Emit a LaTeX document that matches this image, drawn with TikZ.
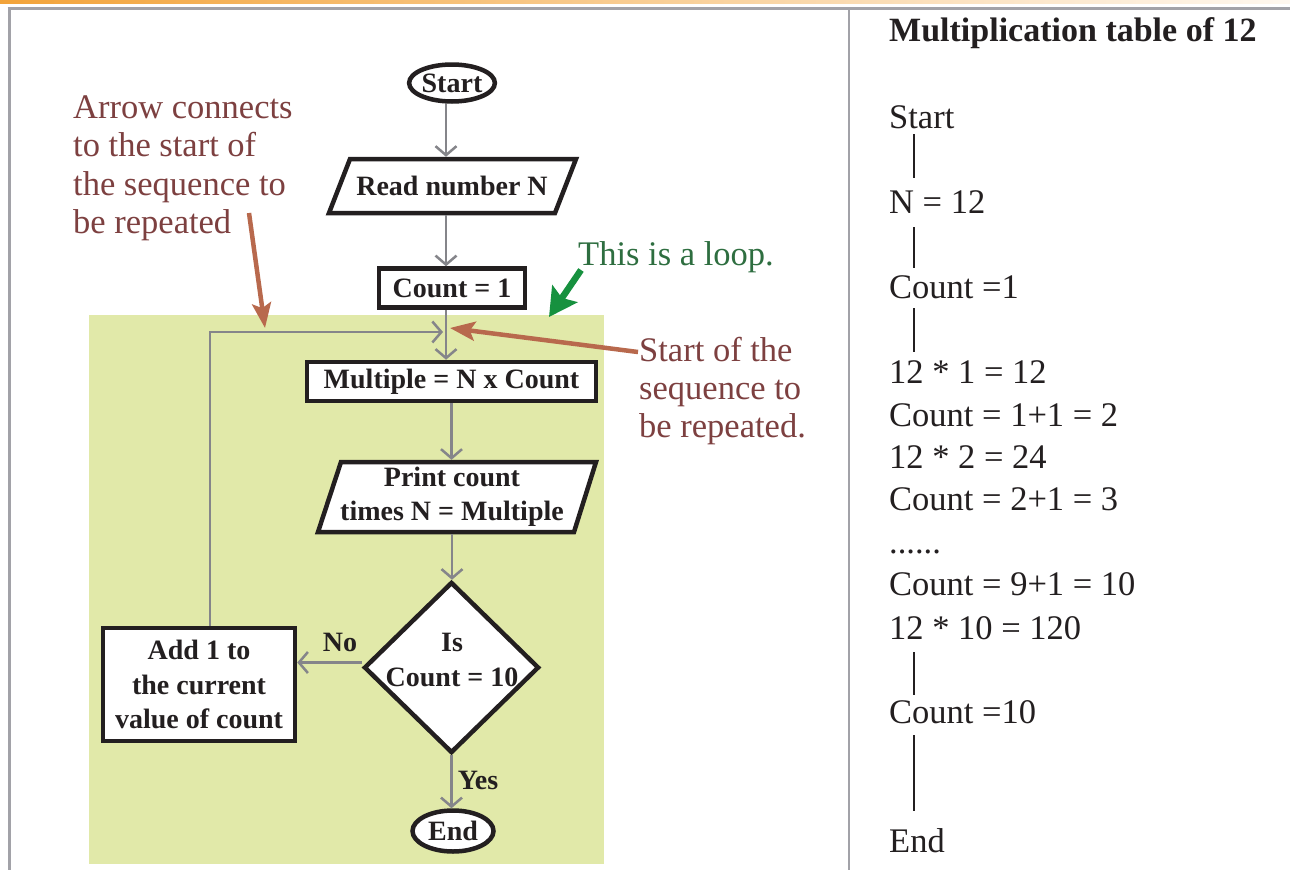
\documentclass[tikz,border=0pt]{standalone}
\usepackage{fontspec}
\setmainfont{Liberation Serif}
\usetikzlibrary{shapes.geometric,arrows.meta,calc}
\definecolor{brtext}{HTML}{7D4040}
\definecolor{brarr}{HTML}{B8694D}
\definecolor{grtext}{HTML}{2E6E40}
\definecolor{grarr}{HTML}{17913F}
\definecolor{loopfill}{HTML}{E1E9A9}
\definecolor{flowgray}{HTML}{85858A}
\definecolor{framegray}{HTML}{A2A2A8}
\definecolor{topor}{HTML}{F2A33A}
\definecolor{ink}{HTML}{231F20}
\begin{document}
\begin{tikzpicture}[x=1pt,y=-1pt,
  shapeline/.style={line width=4.5pt, draw=ink, line join=miter},
  ftext/.style={font=\fontsize{28}{34.5}\selectfont\bfseries, text=ink, align=center, inner sep=0pt},
  fbox/.style={ftext, shapeline, fill=white, rectangle},
  foval/.style={ftext, shapeline, fill=white, ellipse},
  arr/.style={draw=flowgray, line width=2.5pt, -{Straight Barb[length=9pt,width=21pt]}},
  brarrow/.style={draw=brarr, line width=4.5pt, -{Stealth[length=25pt,width=19pt,inset=5pt]}},
  grarrow/.style={draw=grarr, line width=6.5pt, -{Stealth[length=28pt,width=30pt,inset=5pt]}},
  note/.style={font=\fontsize{34.5}{38}\selectfont, inner sep=0pt, anchor=base west},
  brnote/.style={note, text=brtext},
  grnote/.style={note, text=grtext},
  rcol/.style={note, text=ink},
  bar/.style={draw=ink, line width=2.4pt},
]
\useasboundingbox (0,0) rectangle (1290,870);
\fill[white] (0,0) rectangle (1290,870);

% frame
\shade[left color=topor, right color=topor!8] (0,0) rectangle (1290,3);
\draw[draw=framegray, line width=3pt] (7.5,8.5) -- (1290,8.5);
\draw[draw=framegray, line width=3pt] (9,7) -- (9,870);
\draw[draw=framegray, line width=2.5pt] (849,8.5) -- (849,870);

% loop area
\fill[loopfill] (89,315) rectangle (604,864);

% flowchart nodes
\node[foval, minimum width=84, minimum height=37] (start) at (452,83) {Start};

\draw[shapeline, fill=white] (350,159) -- (576,159) -- (555,213) -- (329,213) -- cycle;
\node[ftext, minimum width=228, minimum height=58] (read) at (452,186) {Read number N};

\node[fbox, minimum width=146, minimum height=39] (count) at (452,288) {Count = 1};
\node[fbox, minimum width=289, minimum height=39] (mult) at (451.5,381.5) {Multiple = N x Count};

\draw[shapeline, fill=white] (341,462) -- (596,462) -- (574,532) -- (318,532) -- cycle;
\node[ftext, minimum width=250, minimum height=74] (print) at (452,497) {Print count\\times N = Multiple};

\node[shapeline, fill=white, diamond, minimum width=175, minimum height=171, inner sep=0pt] (dec) at (451.5,667.5) {};
\node[ftext] (dectext) at (452,660) {Is\\Count = 10};

\node[fbox, minimum width=192, minimum height=113] (add) at (199,684.5) {Add 1 to\\the current\\value of count};

\node[foval, minimum width=81, minimum height=41] (end) at (453,831) {End};

% connectors
\draw[arr] ([xshift=-6pt]start.south) -- ([xshift=-6pt]start.south |- read.north);
\draw[arr] ([xshift=-6pt]read.south) -- ([xshift=-6pt]read.south |- count.north);
\draw[arr] ([xshift=-6pt]count.south) -- ([xshift=-6pt]count.south |- mult.north);
\coordinate (join) at (443,332);
\draw[arr] ([xshift=11pt]add.north) |- (join);
\draw[arr] (mult.south) -- (mult.south |- print.north);
\draw[arr] (print.south) -- (print.south |- dec.north);
\draw[arr] ([yshift=5pt]dec.west) -- ([yshift=5pt]dec.west -| add.east);
\draw[arr] (dec.south) -- (dec.south |- end.north);

\node[ftext] (nolab) at (340,642) {No};
\node[ftext] (yeslab) at (478,780) {Yes};

% annotations
\node[brnote] (a1) at (73,118) {Arrow connects};
\node[brnote] (a2) at (73,156) {to the start of};
\node[brnote] (a3) at (73,195) {the sequence to};
\node[brnote] (a4) at (73,233) {be repeated};
\coordinate (b1s) at (249,213);
\coordinate (b1e) at (265,328);
\draw[brarrow] (b1s) -- (b1e);

\node[brnote] (s1) at (639,361) {Start of the};
\node[brnote] (s2) at (639,399) {sequence to};
\node[brnote] (s3) at (639,437) {be repeated.};
\coordinate (b2s) at (638,352);
\coordinate (b2e) at (450,328);
\draw[brarrow] (b2s) -- (b2e);

\node[grnote] (loopnote) at (578,265) {This is a loop.};
\coordinate (g1s) at (581,270);
\coordinate (g1e) at (549,317);
\draw[grarrow] (g1s) -- (g1e);

% right column
\node[rcol, font=\fontsize{34}{38}\selectfont\bfseries] (title) at (889,41) {Multiplication table of 12};
\node[rcol] (r1) at (889,128) {Start};
\node[rcol] (r2) at (889,213) {N = 12};
\node[rcol] (r3) at (889,298) {Count =1};
\node[rcol] (r4) at (889,383) {12 * 1 = 12};
\node[rcol] (r5) at (889,426) {Count = 1+1 = 2};
\node[rcol] (r6) at (889,468) {12 * 2 = 24};
\node[rcol] (r7) at (889,510) {Count = 2+1 = 3};
\node[rcol] (r8) at (889,553) {......};
\node[rcol] (r9) at (889,595) {Count = 9+1 = 10};
\node[rcol] (r10) at (889,639) {12 * 10 = 120};
\node[rcol] (r11) at (889,723) {Count =10};
\node[rcol] (r12) at (889,852) {End};
\draw[bar] (914,134) -- (914,178);
\draw[bar] (914,227) -- (914,268);
\draw[bar] (914,308) -- (914,352);
\draw[bar] (914,652) -- (914,695);
\draw[bar] (914,735) -- (914,811);
\end{tikzpicture}
\end{document}
